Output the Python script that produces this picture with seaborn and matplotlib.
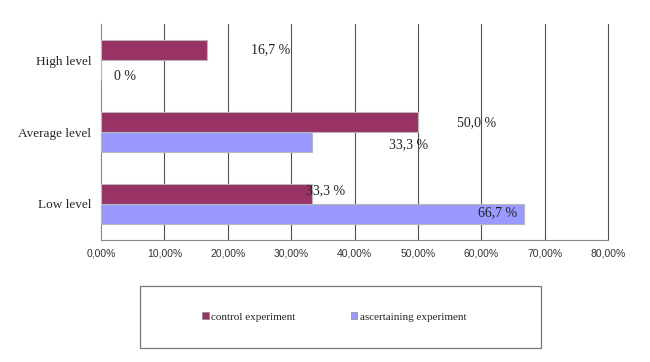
import matplotlib
matplotlib.use("Agg")
import matplotlib.pyplot as plt
import seaborn as sns
import pandas as pd
from matplotlib.patches import Patch, Rectangle
from matplotlib.ticker import FuncFormatter, FixedLocator

# ---- data ----
categories = ["High level", "Average level", "Low level"]
series = ["control experiment", "ascertaining experiment"]
control_values = [16.7, 50.0, 33.3]
ascertaining_values = [0.0, 33.3, 66.7]
value_labels_control = ["16,7 %", "50,0 %", "33,3 %"]
value_labels_ascert = ["0 %", "33,3 %", "66,7 %"]
x_ticks = [0, 10, 20, 30, 40, 50, 60, 70, 80]

colors = {"control experiment": "#993366", "ascertaining experiment": "#9999FF"}

df = pd.DataFrame({
    "level": categories * 2,
    "series": [series[0]] * 3 + [series[1]] * 3,
    "value": control_values + ascertaining_values,
})

sns.set_style("white")
plt.rcParams["font.family"] = ["Liberation Serif", "DejaVu Serif"]

fig = plt.figure(figsize=(6.5, 3.62), dpi=100)
ax = fig.add_axes([101 / 650, 1 - 240 / 362, 507 / 650, 216 / 362])

sns.barplot(data=df, y="level", x="value", hue="series", order=categories,
            hue_order=series, palette=colors, saturation=1, orient="h", width=0.556,
            edgecolor="#b8b8b8", linewidth=0.8, ax=ax, legend=False, zorder=3)

ax.set_xlim(0, 80)
ax.set_ylim(2.5, -0.5)
ax.xaxis.set_major_locator(FixedLocator(x_ticks))
ax.xaxis.set_major_formatter(FuncFormatter(lambda v, p: f"{v:.2f}".replace(".", ",") + "%"))
ax.set_xlabel("")
ax.set_ylabel("")

# vertical gridlines
for t in x_ticks[1:]:
    ax.axvline(t, color="#505050", lw=0.8, zorder=1, clip_on=False)

for s in ["top", "right"]:
    ax.spines[s].set_visible(False)
ax.spines["left"].set_color("#888888")
ax.spines["bottom"].set_color("#888888")
ax.spines["left"].set_linewidth(0.8)
ax.spines["bottom"].set_linewidth(0.8)

# y tick labels at categories, tick marks at boundaries
ax.set_yticks(range(3))
ax.set_yticklabels(categories, fontsize=9.5)
ax.tick_params(axis="y", length=0, pad=7)
ax.set_yticks([-0.5, 0.5, 1.5, 2.5], minor=True)
ax.tick_params(axis="y", which="minor", length=4, color="#888888", width=0.8, direction="out")
ax.tick_params(axis="x", length=4, color="#888888", width=0.8, direction="out",
               labelsize=7.5, pad=2)
for lbl in ax.get_xticklabels():
    lbl.set_fontfamily(["Liberation Sans", "DejaVu Sans"])
    lbl.set_color("#333333")

# value labels (hand-placed as in original)
ctrl_pos = [(26.7, -0.14), (59.3, 0.875), (35.5, 1.82)]
asc_pos = [(3.8, 0.236), (48.6, 1.18), (62.5, 2.125)]
for (x, y), t in zip(ctrl_pos, value_labels_control):
    ax.text(x, y, t, ha="center", va="center", fontsize=10, color="#222222", zorder=5)
for (x, y), t in zip(asc_pos, value_labels_ascert):
    ax.text(x, y, t, ha="center", va="center", fontsize=10, color="#222222", zorder=5)

# legend with frame box
handles = [Patch(facecolor=colors[s], edgecolor="#888888", linewidth=0.5, label=s) for s in series]
fig.legend(handles=handles, loc="center", bbox_to_anchor=(334 / 650, 1 - 317 / 362),
           ncol=2, frameon=False, fontsize=8, handlelength=0.6, handleheight=0.6,
           handletextpad=0.2, columnspacing=5.0)
fig.patches.append(Rectangle((140 / 650, 1 - 348 / 362), 401 / 650, 62 / 362,
                             transform=fig.transFigure, fill=False,
                             edgecolor="#777777", linewidth=0.9))

fig.savefig("out.png", dpi=100)
